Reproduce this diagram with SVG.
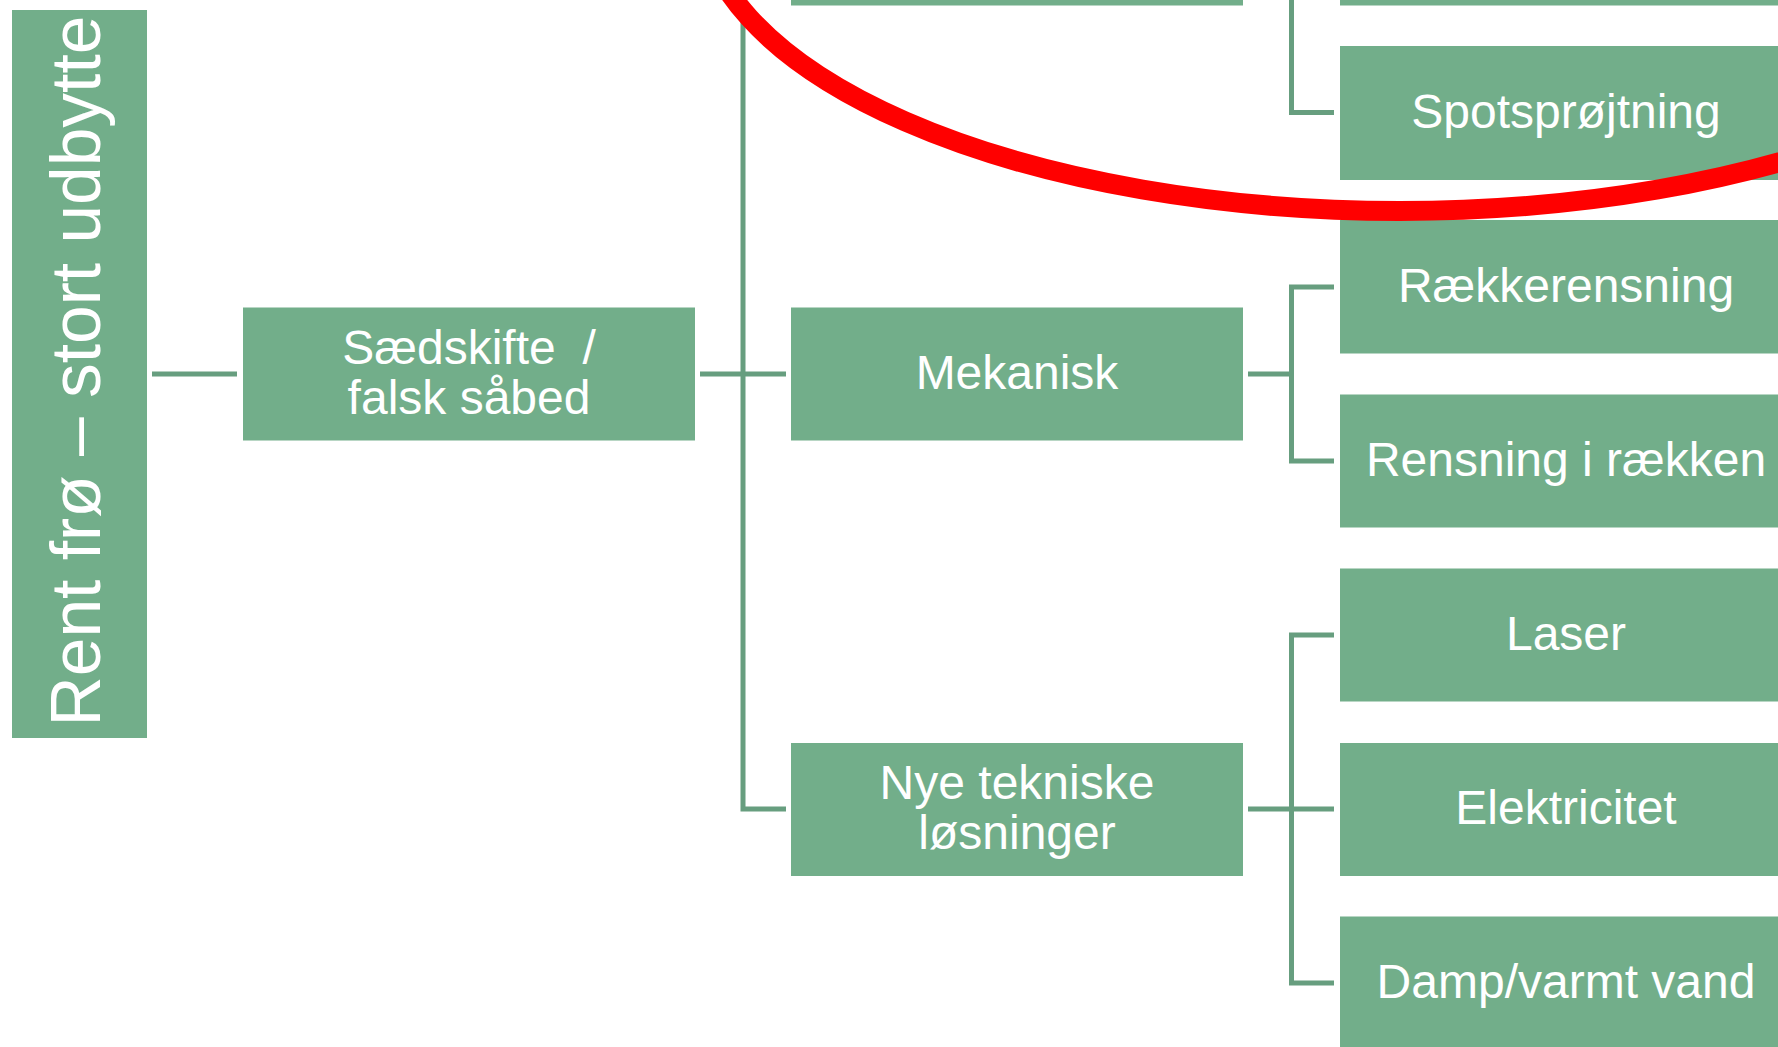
<svg xmlns="http://www.w3.org/2000/svg" width="1778" height="1047" viewBox="0 0 1778 1047">
<style>
.box{fill:#72AE8A}
.lbl{font-family:"Liberation Sans",Arial,sans-serif;font-size:48px;fill:#fff;text-anchor:middle}
.root{font-family:"Liberation Sans",Arial,sans-serif;font-size:69.5px;fill:#fff;text-anchor:middle}
.con{fill:none;stroke:#679E7F;stroke-width:5;stroke-linejoin:miter}
</style>
<rect width="1778" height="1047" fill="#fff"/>
<g id="connectors">
<path class="con" d="M152,374H237"/>
<path class="con" d="M700,374H786"/>
<path class="con" d="M743,-70V809H786"/>
<path class="con" d="M1248,374H1291.5"/>
<path class="con" d="M1334,287H1291.5V461H1334"/>
<path class="con" d="M1291.5,-70V112.5H1334"/>
<path class="con" d="M1248,809H1334"/>
<path class="con" d="M1334,635H1291.5V983H1334"/>
</g>
<g id="root">
<rect class="box" x="12" y="10" width="135" height="728"/>
<text class="root" transform="translate(100,371) rotate(-90)">Rent frø – stort udbytte</text>
</g>
<g id="saedskifte">
<rect class="box" x="243" y="307.5" width="452" height="133"/>
<text class="lbl" xml:space="preserve" x="469" y="364">Sædskifte  /</text>
<text class="lbl" x="469" y="414">falsk såbed</text>
</g>
<g id="top-middle">
<rect class="box" x="791" y="-128" width="452" height="133.5"/>
</g>
<g id="mekanisk">
<rect class="box" x="791" y="307.5" width="452" height="133"/>
<text class="lbl" x="1017" y="389">Mekanisk</text>
</g>
<g id="nye">
<rect class="box" x="791" y="743" width="452" height="133"/>
<text class="lbl" x="1017" y="799">Nye tekniske</text>
<text class="lbl" x="1017" y="849">løsninger</text>
</g>
<g id="top-right">
<rect class="box" x="1340" y="-128" width="452" height="133.5"/>
</g>
<g id="spotsproejtning">
<rect class="box" x="1340" y="46" width="452" height="134"/>
<text class="lbl" x="1566" y="128">Spotsprøjtning</text>
</g>
<g id="raekkerensning">
<rect class="box" x="1340" y="220" width="452" height="133.5"/>
<text class="lbl" x="1566" y="302">Rækkerensning</text>
</g>
<g id="rensning">
<rect class="box" x="1340" y="394.5" width="452" height="133"/>
<text class="lbl" x="1566" y="476">Rensning i rækken</text>
</g>
<g id="laser">
<rect class="box" x="1340" y="568.5" width="452" height="133"/>
<text class="lbl" x="1566" y="650">Laser</text>
</g>
<g id="elektricitet">
<rect class="box" x="1340" y="743" width="452" height="133"/>
<text class="lbl" x="1566" y="824">Elektricitet</text>
</g>
<g id="damp">
<rect class="box" x="1340" y="916.5" width="452" height="134"/>
<text class="lbl" x="1566" y="998">Damp/varmt vand</text>
</g>
<ellipse id="highlight" cx="1400" cy="-95" rx="700" ry="306" fill="none" stroke="#FF0000" stroke-width="20"/>
</svg>
